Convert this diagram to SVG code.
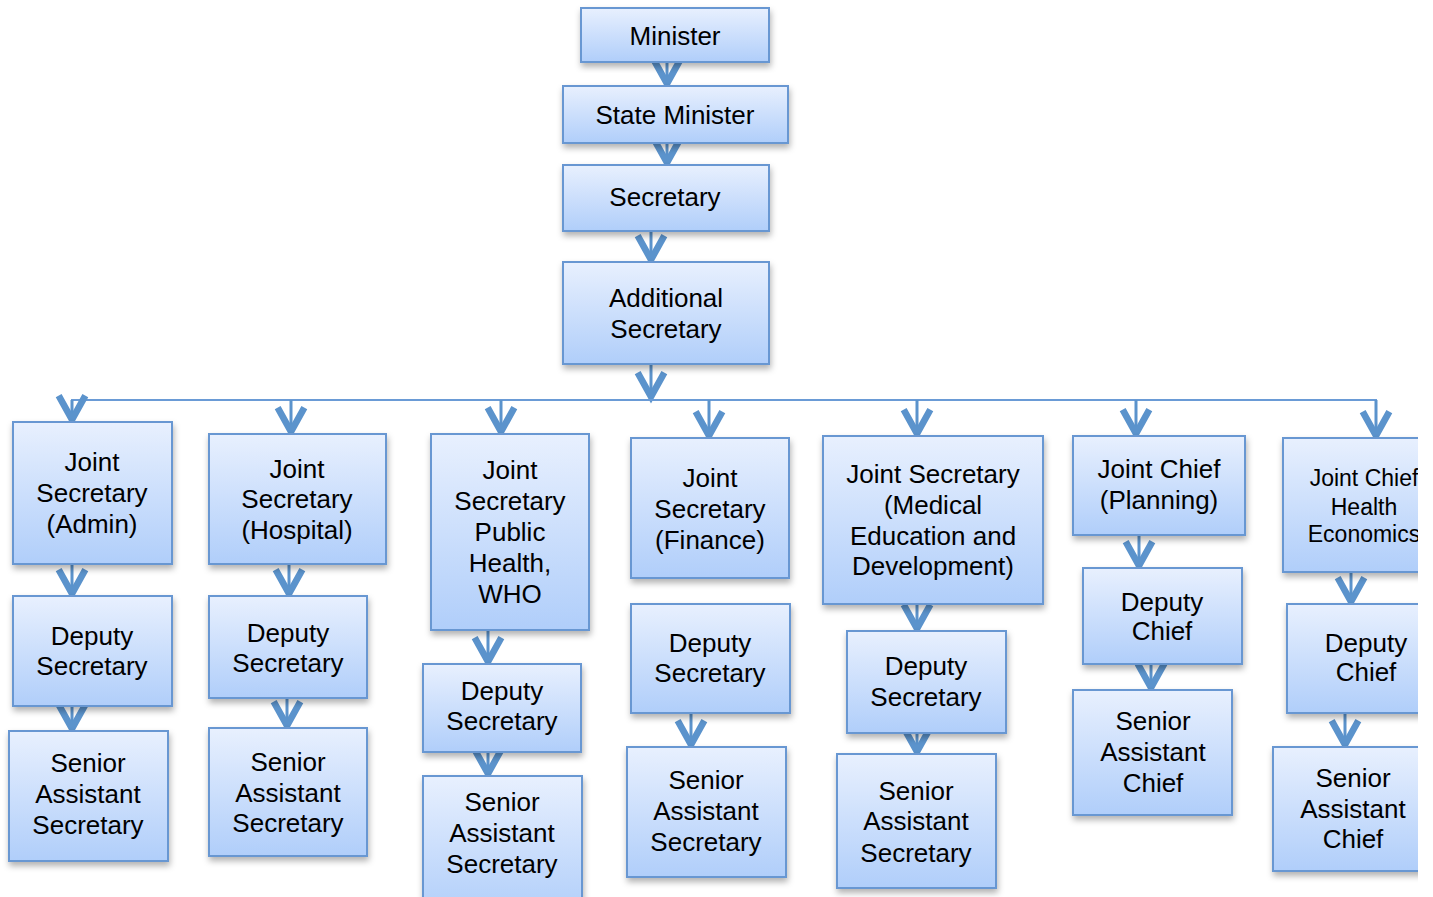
<svg xmlns="http://www.w3.org/2000/svg" width="1433" height="897" viewBox="0 0 1433 897">
  <style>
    .box { fill: url(#boxFill); stroke: #6797d2; stroke-width: 2; filter: url(#shadow); }
    .lbl { font-family: "Liberation Sans", Arial, sans-serif; font-size: 26px; fill: #000; text-anchor: middle; }
    .sm { font-size: 23px; }
    .arr { stroke: #5b93cc; stroke-width: 3; fill: none; marker-end: url(#vhead); }
    .bus { stroke: #6a9bd6; stroke-width: 2; fill: none; }
  </style>
  <defs>
    <linearGradient id="boxFill" x1="0" y1="0" x2="0" y2="1">
      <stop offset="0" stop-color="#e8f0fe"/>
      <stop offset="1" stop-color="#b0cefa"/>
    </linearGradient>
    <filter id="shadow" x="-10%" y="-10%" width="125%" height="130%">
      <feDropShadow dx="1" dy="4" stdDeviation="3" flood-color="#000" flood-opacity="0.3"/>
    </filter>
    <marker id="vhead" markerUnits="userSpaceOnUse" markerWidth="40" markerHeight="40" viewBox="-25 -15 30 30" refX="0" refY="0" orient="auto" overflow="visible">
      <path d="M-19,-10 L-1,0 L-19,10" fill="none" stroke="#5b93cc" stroke-width="5" stroke-linejoin="miter"/>
    </marker>
    <clipPath id="page">
      <rect x="0" y="0" width="1418" height="897"/>
    </clipPath>
  </defs>

  <g clip-path="url(#page)">
    <!-- connectors -->
    <g id="connectors">
      <line class="arr" x1="667" y1="62" x2="667" y2="85"/>
      <line class="arr" x1="667" y1="143" x2="667" y2="164"/>
      <line class="arr" x1="651" y1="231" x2="651" y2="261"/>
      <line class="arr" x1="651" y1="364" x2="651" y2="398"/>
      <polyline class="bus" points="72,421 72,400 1376,400 1376,436"/>
      <line class="arr" x1="72" y1="400" x2="72" y2="421"/>
      <line class="arr" x1="291" y1="400" x2="291" y2="433"/>
      <line class="arr" x1="501" y1="400" x2="501" y2="433"/>
      <line class="arr" x1="709" y1="400" x2="709" y2="437"/>
      <line class="arr" x1="917" y1="400" x2="917" y2="435"/>
      <line class="arr" x1="1136" y1="400" x2="1136" y2="435"/>
      <line class="arr" x1="1376" y1="400" x2="1376" y2="437"/>
      <!-- column chains -->
      <line class="arr" x1="72" y1="564" x2="72" y2="595"/>
      <line class="arr" x1="72" y1="706" x2="72" y2="730"/>
      <line class="arr" x1="289" y1="564" x2="289" y2="595"/>
      <line class="arr" x1="287" y1="698" x2="287" y2="727"/>
      <line class="arr" x1="488" y1="630" x2="488" y2="663"/>
      <line class="arr" x1="488" y1="752" x2="488" y2="775"/>
      <line class="arr" x1="691" y1="713" x2="691" y2="746"/>
      <line class="arr" x1="917" y1="604" x2="917" y2="630"/>
      <line class="arr" x1="917" y1="733" x2="917" y2="753"/>
      <line class="arr" x1="1139" y1="535" x2="1139" y2="567"/>
      <line class="arr" x1="1151" y1="664" x2="1151" y2="689"/>
      <line class="arr" x1="1351" y1="572" x2="1351" y2="603"/>
      <line class="arr" x1="1345" y1="713" x2="1345" y2="746"/>
    </g>

    <!-- top chain -->
    <g id="minister">
      <rect class="box" x="581" y="8" width="188" height="54"/>
      <text class="lbl" x="675" y="45">Minister</text>
    </g>
    <g id="state-minister">
      <rect class="box" x="563" y="86" width="225" height="57"/>
      <text class="lbl" x="675" y="124">State Minister</text>
    </g>
    <g id="secretary">
      <rect class="box" x="563" y="165" width="206" height="66"/>
      <text class="lbl" x="665" y="206">Secretary</text>
    </g>
    <g id="additional-secretary">
      <rect class="box" x="563" y="262" width="206" height="102"/>
      <text class="lbl" x="666" y="307">Additional</text>
      <text class="lbl" x="666" y="338">Secretary</text>
    </g>

    <!-- column 1 -->
    <g id="js-admin">
      <rect class="box" x="13" y="422" width="159" height="142"/>
      <text class="lbl" x="92" y="471">Joint</text>
      <text class="lbl" x="92" y="502">Secretary</text>
      <text class="lbl" x="92" y="533">(Admin)</text>
    </g>
    <g id="ds-admin">
      <rect class="box" x="13" y="596" width="159" height="110"/>
      <text class="lbl" x="92" y="645">Deputy</text>
      <text class="lbl" x="92" y="675">Secretary</text>
    </g>
    <g id="sas-admin">
      <rect class="box" x="9" y="731" width="159" height="130"/>
      <text class="lbl" x="88" y="772">Senior</text>
      <text class="lbl" x="88" y="803">Assistant</text>
      <text class="lbl" x="88" y="834">Secretary</text>
    </g>

    <!-- column 2 -->
    <g id="js-hospital">
      <rect class="box" x="209" y="434" width="177" height="130"/>
      <text class="lbl" x="297" y="478">Joint</text>
      <text class="lbl" x="297" y="508">Secretary</text>
      <text class="lbl" x="297" y="539">(Hospital)</text>
    </g>
    <g id="ds-hospital">
      <rect class="box" x="209" y="596" width="158" height="102"/>
      <text class="lbl" x="288" y="642">Deputy</text>
      <text class="lbl" x="288" y="672">Secretary</text>
    </g>
    <g id="sas-hospital">
      <rect class="box" x="209" y="728" width="158" height="128"/>
      <text class="lbl" x="288" y="771">Senior</text>
      <text class="lbl" x="288" y="802">Assistant</text>
      <text class="lbl" x="288" y="832">Secretary</text>
    </g>

    <!-- column 3 -->
    <g id="js-public-health">
      <rect class="box" x="431" y="434" width="158" height="196"/>
      <text class="lbl" x="510" y="479">Joint</text>
      <text class="lbl" x="510" y="510">Secretary</text>
      <text class="lbl" x="510" y="541">Public</text>
      <text class="lbl" x="510" y="572">Health,</text>
      <text class="lbl" x="510" y="603">WHO</text>
    </g>
    <g id="ds-public-health">
      <rect class="box" x="423" y="664" width="158" height="88"/>
      <text class="lbl" x="502" y="700">Deputy</text>
      <text class="lbl" x="502" y="730">Secretary</text>
    </g>
    <g id="sas-public-health">
      <rect class="box" x="423" y="776" width="159" height="140"/>
      <text class="lbl" x="502" y="811">Senior</text>
      <text class="lbl" x="502" y="842">Assistant</text>
      <text class="lbl" x="502" y="873">Secretary</text>
    </g>

    <!-- column 4 -->
    <g id="js-finance">
      <rect class="box" x="631" y="438" width="158" height="140"/>
      <text class="lbl" x="710" y="487">Joint</text>
      <text class="lbl" x="710" y="518">Secretary</text>
      <text class="lbl" x="710" y="549">(Finance)</text>
    </g>
    <g id="ds-finance">
      <rect class="box" x="631" y="604" width="159" height="109"/>
      <text class="lbl" x="710" y="652">Deputy</text>
      <text class="lbl" x="710" y="682">Secretary</text>
    </g>
    <g id="sas-finance">
      <rect class="box" x="627" y="747" width="159" height="130"/>
      <text class="lbl" x="706" y="789">Senior</text>
      <text class="lbl" x="706" y="820">Assistant</text>
      <text class="lbl" x="706" y="851">Secretary</text>
    </g>

    <!-- column 5 -->
    <g id="js-medical-education">
      <rect class="box" x="823" y="436" width="220" height="168"/>
      <text class="lbl" x="933" y="483">Joint Secretary</text>
      <text class="lbl" x="933" y="514">(Medical</text>
      <text class="lbl" x="933" y="545">Education and</text>
      <text class="lbl" x="933" y="575">Development)</text>
    </g>
    <g id="ds-medical-education">
      <rect class="box" x="847" y="631" width="159" height="102"/>
      <text class="lbl" x="926" y="675">Deputy</text>
      <text class="lbl" x="926" y="706">Secretary</text>
    </g>
    <g id="sas-medical-education">
      <rect class="box" x="837" y="754" width="159" height="134"/>
      <text class="lbl" x="916" y="800">Senior</text>
      <text class="lbl" x="916" y="830">Assistant</text>
      <text class="lbl" x="916" y="862">Secretary</text>
    </g>

    <!-- column 6 -->
    <g id="jc-planning">
      <rect class="box" x="1073" y="436" width="172" height="99"/>
      <text class="lbl" x="1159" y="478">Joint Chief</text>
      <text class="lbl" x="1159" y="509">(Planning)</text>
    </g>
    <g id="dc-planning">
      <rect class="box" x="1083" y="568" width="159" height="96"/>
      <text class="lbl" x="1162" y="611">Deputy</text>
      <text class="lbl" x="1162" y="640">Chief</text>
    </g>
    <g id="sac-planning">
      <rect class="box" x="1073" y="690" width="159" height="125"/>
      <text class="lbl" x="1153" y="730">Senior</text>
      <text class="lbl" x="1153" y="761">Assistant</text>
      <text class="lbl" x="1153" y="792">Chief</text>
    </g>

    <!-- column 7 -->
    <g id="jc-health-economics">
      <rect class="box" x="1283" y="438" width="160" height="134"/>
      <text class="lbl sm" x="1364" y="486">Joint Chief</text>
      <text class="lbl sm" x="1364" y="515">Health</text>
      <text class="lbl sm" x="1364" y="542">Economics</text>
    </g>
    <g id="dc-health-economics">
      <rect class="box" x="1287" y="604" width="160" height="109"/>
      <text class="lbl" x="1366" y="652">Deputy</text>
      <text class="lbl" x="1366" y="681">Chief</text>
    </g>
    <g id="sac-health-economics">
      <rect class="box" x="1273" y="747" width="160" height="124"/>
      <text class="lbl" x="1353" y="787">Senior</text>
      <text class="lbl" x="1353" y="818">Assistant</text>
      <text class="lbl" x="1353" y="848">Chief</text>
    </g>
  </g>
</svg>
